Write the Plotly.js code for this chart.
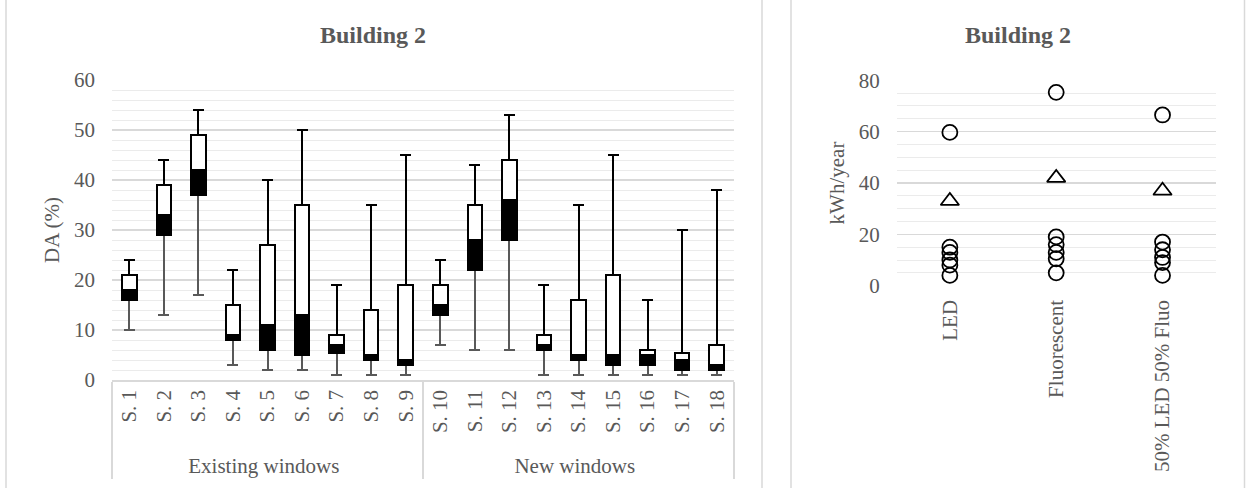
<!DOCTYPE html>
<html><head><meta charset="utf-8">
<script src="https://cdn.plot.ly/plotly-3.0.1.min.js"></script>
<style>html,body{margin:0;padding:0;background:#fff}#chart{width:1248px;height:488px}</style>
</head><body><div id="chart"></div>
<script>
// ---- Left chart data: DA (%) box plots ----
const windowGroups = ['Existing windows','Existing windows','Existing windows','Existing windows','Existing windows','Existing windows','Existing windows','Existing windows','Existing windows',
  'New windows','New windows','New windows','New windows','New windows','New windows','New windows','New windows','New windows'];
const scenarios = ['S. 1','S. 2','S. 3','S. 4','S. 5','S. 6','S. 7','S. 8','S. 9',
  'S. 10','S. 11','S. 12','S. 13','S. 14','S. 15','S. 16','S. 17','S. 18'];
const daMin    = [10, 13, 17, 3, 2, 2, 1, 1, 1,   7, 6, 6, 1, 1, 1, 1, 1, 1];
const daQ1     = [16, 29, 37, 8, 6, 5, 5.5, 4, 3, 13, 22, 28, 6, 4, 3, 3, 2, 2];
const daMedian = [18, 33, 42, 9, 11, 13, 7, 5, 4, 15, 28, 36, 7, 5, 5, 5, 4, 3];
const daQ3     = [21, 39, 49, 15, 27, 35, 9, 14, 19, 19, 35, 44, 9, 16, 21, 6, 5.5, 7];
const daMax    = [24, 44, 54, 22, 40, 50, 19, 35, 45, 24, 43, 53, 19, 35, 45, 16, 30, 38];

// ---- Right chart data: kWh/year ----
const lightingTypes = ['LED', 'Fluorescent', '50% LED 50% Fluo'];
const ledValues  = [59.7, 15, 13, 10, 8, 4];
const fluoValues = [75.3, 19, 16, 13, 10.5, 5];
const mixValues  = [66.5, 17, 14, 11, 9, 4];
const meanValues = [33, 42, 37];

const xCat = [windowGroups, scenarios];
const zeros = daQ1.map(() => 0);

const baseTrace = {
  type: 'bar', x: xCat, y: daQ1, xaxis: 'x', yaxis: 'y',
  marker: {color: 'rgba(0,0,0,0)', line: {width: 0}},
  error_y: {type: 'data', symmetric: false, array: zeros,
    arrayminus: daQ1.map((q, i) => q - daMin[i]),
    color: '#595959', thickness: 2, width: 5.5},
  hoverinfo: 'skip'
};
const lowerBox = {
  type: 'bar', x: xCat, y: daMedian.map((m, i) => m - daQ1[i]), xaxis: 'x', yaxis: 'y',
  marker: {color: '#000000', line: {color: '#000000', width: 2}}
};
const upperBox = {
  type: 'bar', x: xCat, y: daQ3.map((q, i) => q - daMedian[i]), xaxis: 'x', yaxis: 'y',
  marker: {color: '#ffffff', line: {color: '#000000', width: 2}},
  error_y: {type: 'data', symmetric: false,
    array: daMax.map((m, i) => m - daQ3[i]), arrayminus: zeros,
    color: '#000000', thickness: 2, width: 5.5}
};

const circX = [], circY = [];
[ledValues, fluoValues, mixValues].forEach((vals, k) => {
  vals.forEach(v => { circX.push(lightingTypes[k]); circY.push(v); });
});
const circles = {
  type: 'scatter', mode: 'markers', x: circX, y: circY, xaxis: 'x2', yaxis: 'y2',
  marker: {symbol: 'circle-open', size: 15, color: '#000000', line: {width: 1.8, color: '#000000'}}
};
const triangles = {
  type: 'scatter', mode: 'markers', x: lightingTypes, y: meanValues, xaxis: 'x2', yaxis: 'y2',
  marker: {symbol: 'triangle-up-open', size: 16, color: '#000000', line: {width: 1.8, color: '#000000'}}
};

const W = 1248, H = 488;
const frame = (x0, x1) => ({type: 'rect', xref: 'paper', yref: 'paper',
  x0: x0 / W, x1: x1 / W, y0: -0.05, y1: 1.05, line: {color: '#d9d9d9', width: 1.5}, fillcolor: 'rgba(0,0,0,0)', layer: 'below'});

const layout = {
  width: W, height: H,
  margin: {l: 0, r: 0, t: 0, b: 0},
  paper_bgcolor: '#ffffff', plot_bgcolor: 'rgba(0,0,0,0)',
  font: {family: 'Liberation Serif, Times New Roman, serif', color: '#595959', size: 21},
  showlegend: false,
  barmode: 'stack', bargap: 0.58,
  xaxis: {
    type: 'multicategory', domain: [112 / W, 734 / W], anchor: 'y',
    tickangle: -90, ticks: '', showline: true, linecolor: '#d9d9d9', linewidth: 1.5,
    showdividers: true, dividercolor: '#d9d9d9', dividerwidth: 1.5,
    tickfont: {size: 21, color: '#595959'}, showgrid: false
  },
  yaxis: {
    domain: [(H - 380) / H, (H - 80) / H], anchor: 'x',
    range: [0, 60], dtick: 10, tick0: 0,
    showgrid: true, gridcolor: '#d9d9d9', gridwidth: 1.5,
    minor: {dtick: 2, showgrid: true, gridcolor: '#ebebeb', gridwidth: 1},
    zeroline: false, showline: false, ticks: '', ticklabelstandoff: 16,
    tickfont: {size: 21},
    title: {text: 'DA (%)', standoff: 8, font: {size: 21, color: '#595959'}}
  },
  xaxis2: {
    domain: [896.7 / W, 1215.7 / W], anchor: 'y2', type: 'category',
    range: [-0.5, 2.5], tickangle: -90, ticks: '', showline: false, showgrid: false,
    ticklabelstandoff: 9, tickfont: {size: 21}
  },
  yaxis2: {
    domain: [(H - 285.7) / H, (H - 80.3) / H], anchor: 'x2',
    range: [0, 80], dtick: 20, tick0: 0,
    showgrid: true, gridcolor: '#d9d9d9', gridwidth: 1.5,
    minor: {dtick: 5, showgrid: true, gridcolor: '#ebebeb', gridwidth: 1},
    zeroline: false, showline: false, ticks: '', ticklabelstandoff: 16,
    tickfont: {size: 21},
    title: {text: 'kWh/year', standoff: 8, font: {size: 21, color: '#595959'}}
  },
  shapes: [frame(6, 762), frame(791, 1244.5)],
  annotations: [
    {text: '<b>Building 2</b>', xref: 'paper', yref: 'paper', x: 373 / W, y: (H - 35) / H,
      showarrow: false, xanchor: 'center', yanchor: 'middle', font: {size: 24, color: '#595959'}},
    {text: '<b>Building 2</b>', xref: 'paper', yref: 'paper', x: 1018 / W, y: (H - 35) / H,
      showarrow: false, xanchor: 'center', yanchor: 'middle', font: {size: 24, color: '#595959'}}
  ]
};

Plotly.newPlot('chart', [baseTrace, lowerBox, upperBox, circles, triangles], layout,
  {displayModeBar: false, staticPlot: true});
</script>
</body></html>
